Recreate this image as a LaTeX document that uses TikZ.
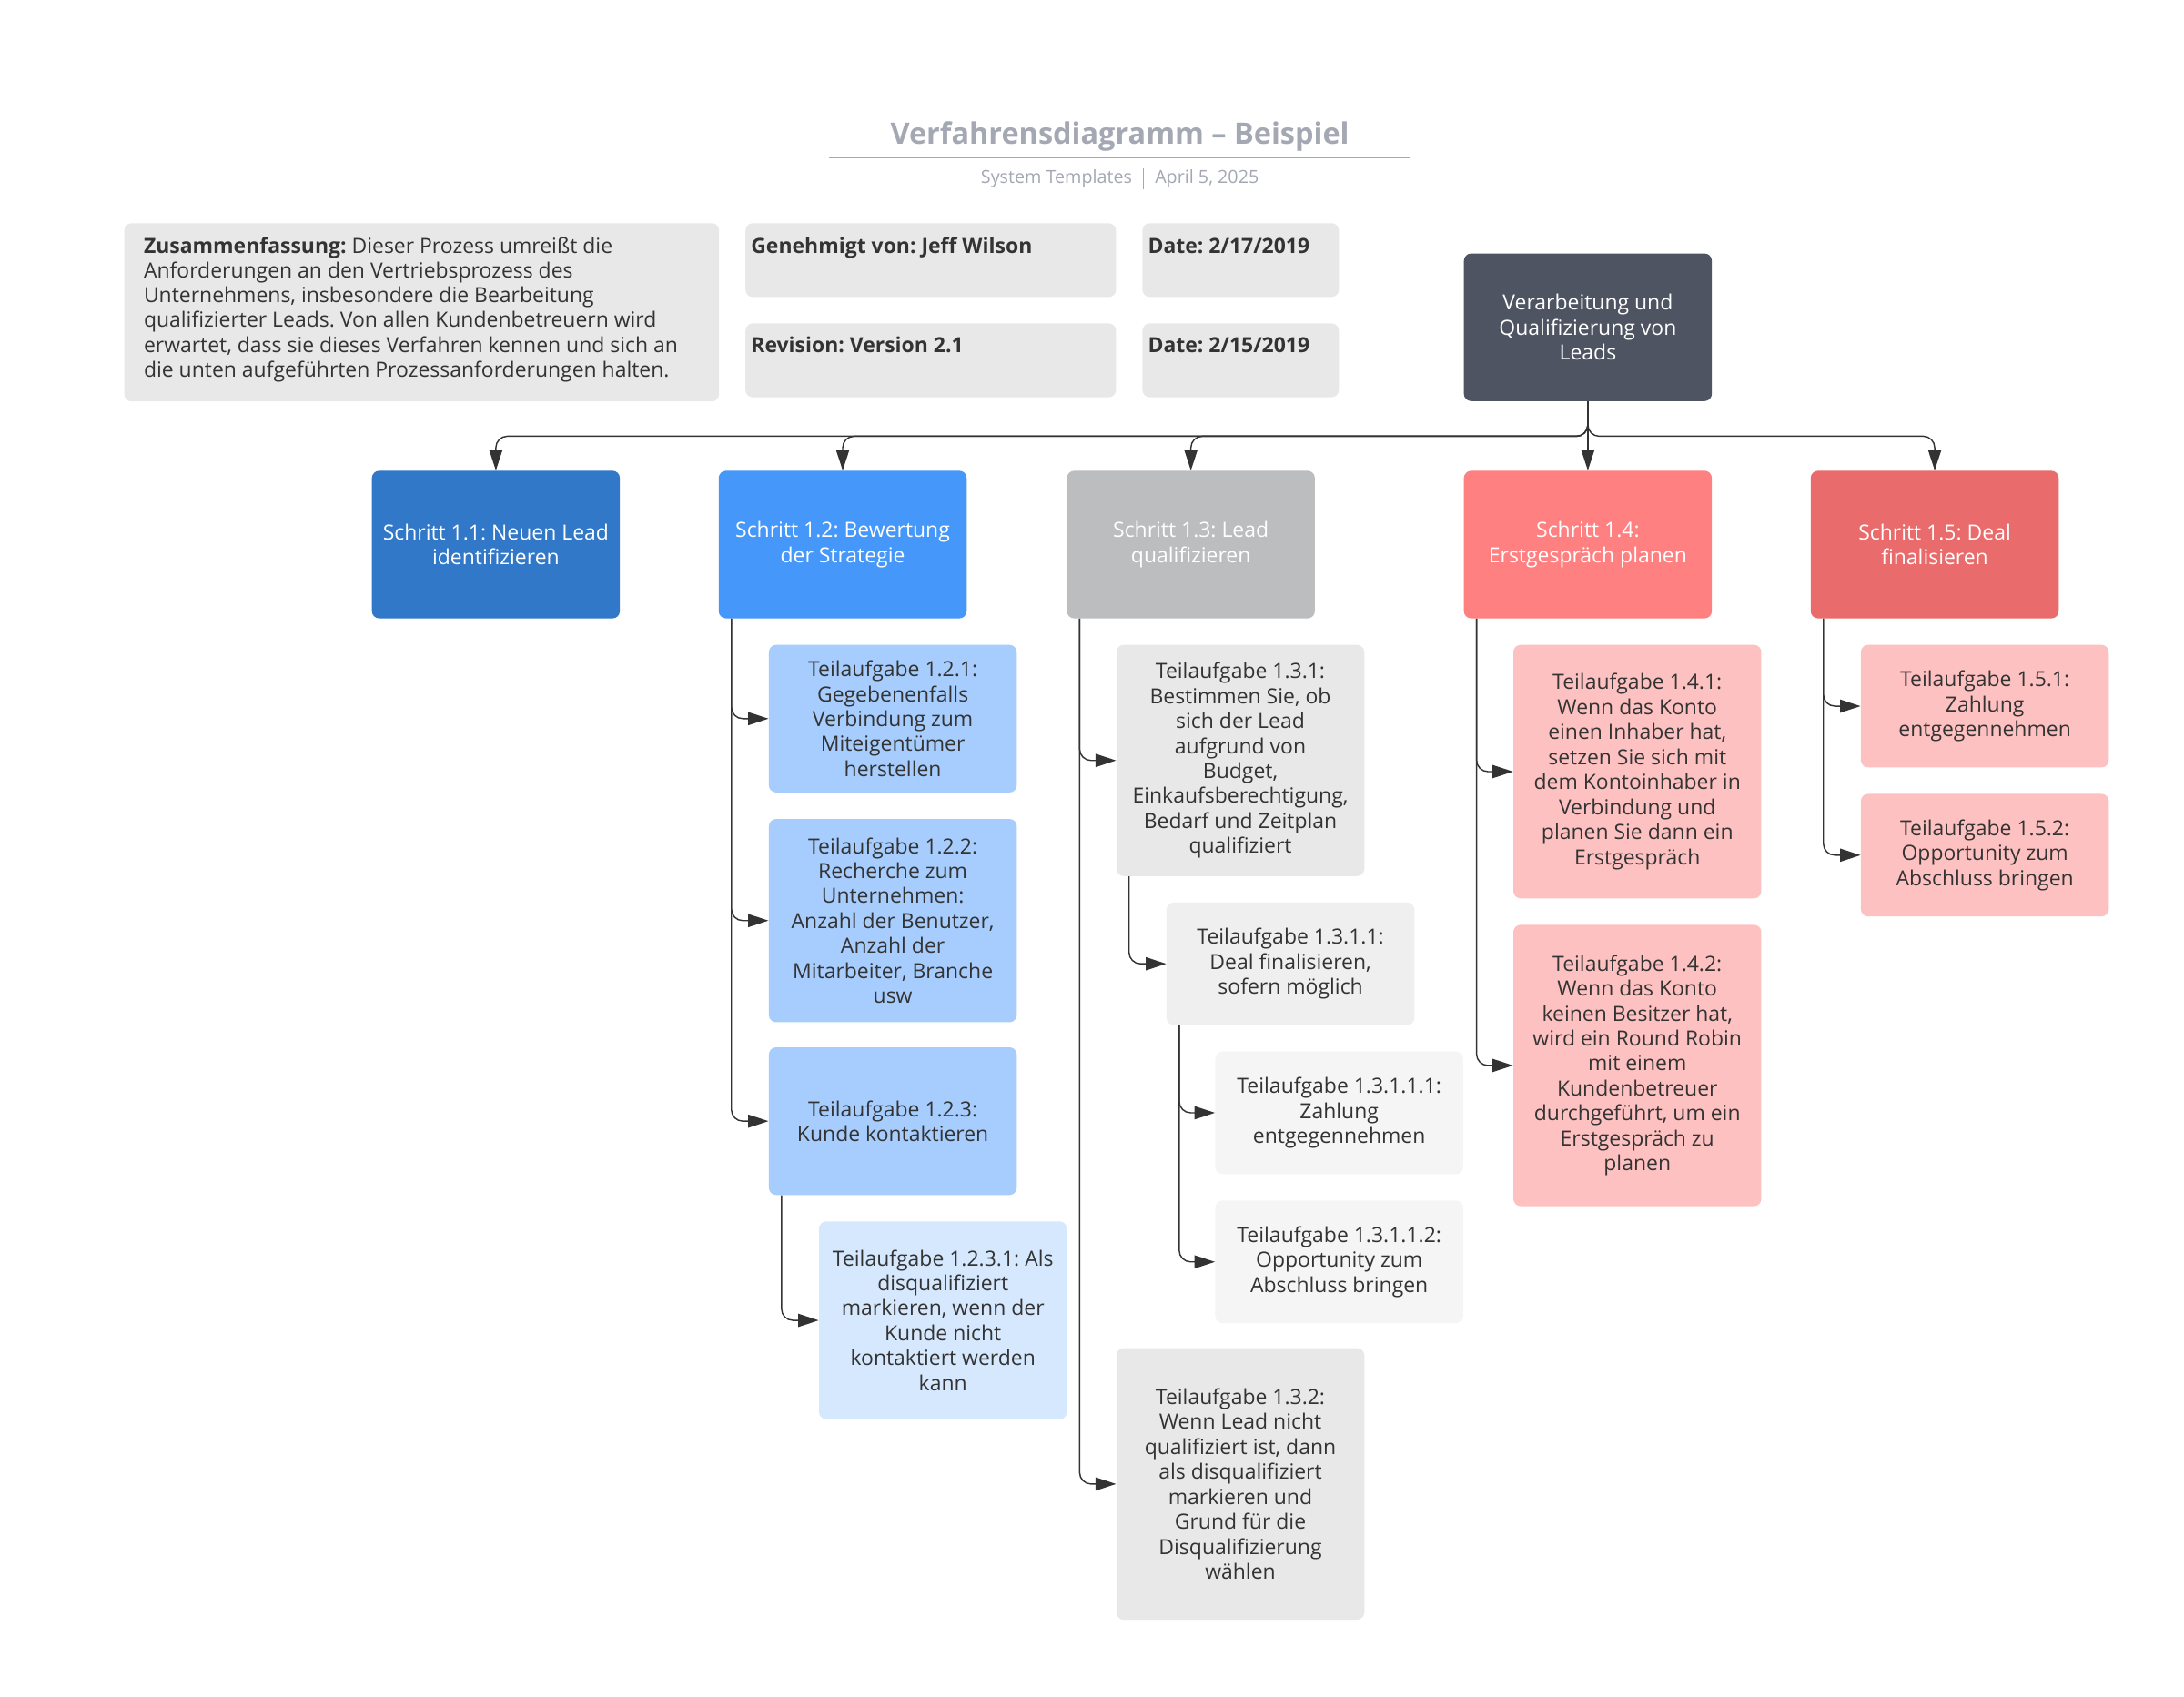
\documentclass[tikz,border=0pt]{standalone}
\usepackage{fontspec}
\setmainfont{Open Sans}
\usepackage{tikz}
\usetikzlibrary{arrows.meta}
\frenchspacing

\definecolor{textdark}{HTML}{333333}
\definecolor{linedark}{HTML}{333333}
\definecolor{titlegray}{HTML}{A3A8B3}
\definecolor{infogray}{HTML}{E8E8E8}
\definecolor{rootgray}{HTML}{4E5461}
\definecolor{step11}{HTML}{3178C8}
\definecolor{step12}{HTML}{4597FA}
\definecolor{step13}{HTML}{BCBDBF}
\definecolor{step14}{HTML}{FF8080}
\definecolor{step15}{HTML}{EA6B6B}
\definecolor{task12}{HTML}{A6CDFD}
\definecolor{task123}{HTML}{D6E8FE}
\definecolor{task13}{HTML}{E8E8E8}
\definecolor{task131}{HTML}{EFEFEF}
\definecolor{task1311}{HTML}{F5F5F5}
\definecolor{task14}{HTML}{FEC1C1}

\begin{document}
\begin{tikzpicture}[x=0.03cm, y=-0.03cm,
    box/.style={rounded corners=4.5pt, minimum width=5.34cm, align=center, inner sep=0pt,
                font=\fontsize{12.8}{15.3}\selectfont, text=textdark},
    stepbox/.style={box, minimum height=3.18cm, text=white},
    infobox/.style={rounded corners=4.5pt, fill=infogray, inner sep=0pt, anchor=north west},
    infotext/.style={inner sep=0pt, align=left, text=textdark, font=\fontsize{12.8}{15.2}\selectfont},
    subtext/.style={inner sep=0pt, text=titlegray, font=\fontsize{11}{13}\selectfont},
    conn/.style={draw=linedark, line width=0.8pt, rounded corners=7pt,
                 -{Triangle[length=4.4mm,width=2.8mm]}}]

\fill[white] (0,0) rectangle (1568,1218);
\useasboundingbox (0,0) rectangle (1568,1218);

\node[inner sep=0pt, text=titlegray, font=\fontsize{18.1}{22}\selectfont\bfseries] (title) at (804,98) {Verfahrensdiagramm – Beispiel};
\draw[titlegray, line width=0.8pt] (595,113) -- (1012,113);
\node[subtext, anchor=east] (tmpl) at (813,128) {System Templates};
\node[subtext, anchor=west] (date) at (829,128) {April 5, 2025};
\draw[titlegray, line width=0.5pt] (821,121) -- (821,136);

\node[infobox, minimum width=12.81cm, minimum height=3.84cm] (summ) at (89,160) {};
\node[infobox, minimum width=7.98cm, minimum height=1.59cm] (appr) at (535,160) {};
\node[infobox, minimum width=4.23cm, minimum height=1.59cm] (date1) at (820,160) {};
\node[infobox, minimum width=7.98cm, minimum height=1.59cm] (rev) at (535,232) {};
\node[infobox, minimum width=4.23cm, minimum height=1.59cm] (date2) at (820,232) {};

\node[infotext, anchor=north west] (summtext) at (103,170) {\textbf{Zusammenfassung:} Dieser Prozess umreißt die\\Anforderungen an den Vertriebsprozess des\\Unternehmens, insbesondere die Bearbeitung\\qualifizierter Leads. Von allen Kundenbetreuern wird\\erwartet, dass sie dieses Verfahren kennen und sich an\\die unten aufgeführten Prozessanforderungen halten.};
\node[infotext, anchor=base west] (apprtext) at (539,182) {\textbf{Genehmigt von: Jeff Wilson}};
\node[infotext, anchor=base west] (date1text) at (824,182) {\textbf{Date: 2/17/2019}};
\node[infotext, anchor=base west] (revtext) at (539,253) {\textbf{Revision: Version 2.1}};
\node[infotext, anchor=base west] (date2text) at (824,253) {\textbf{Date: 2/15/2019}};

\node[stepbox, fill=rootgray] (root) at (1140,235) {Verarbeitung und\\Qualifizierung von\\Leads};

\node[stepbox, fill=step11] (s11) at (356,391) {Schritt 1.1: Neuen Lead\\identifizieren};
\node[stepbox, fill=step12] (s12) at (605,391) {Schritt 1.2: Bewertung\\der Strategie};
\node[stepbox, fill=step13] (s13) at (855,391) {Schritt 1.3: Lead\\qualifizieren};
\node[stepbox, fill=step14] (s14) at (1140,391) {Schritt 1.4:\\Erstgespräch planen};
\node[stepbox, fill=step15] (s15) at (1389,391) {Schritt 1.5: Deal\\finalisieren};

\node[box, fill=task12, minimum height=3.18cm] (t121) at (641,516) {Teilaufgabe 1.2.1:\\Gegebenenfalls\\Verbindung zum\\Miteigentümer\\herstellen};
\node[box, fill=task12, minimum height=4.38cm] (t122) at (641,661) {Teilaufgabe 1.2.2:\\Recherche zum\\Unternehmen:\\Anzahl der Benutzer,\\Anzahl der\\Mitarbeiter, Branche\\usw};
\node[box, fill=task12, minimum height=3.18cm] (t123) at (641,805) {Teilaufgabe 1.2.3:\\Kunde kontaktieren};
\node[box, fill=task123, minimum height=4.26cm] (t1231) at (677,948) {Teilaufgabe 1.2.3.1: Als\\disqualifiziert\\markieren, wenn der\\Kunde nicht\\kontaktiert werden\\kann};

\node[box, fill=task13, minimum height=4.98cm] (t131) at (890.5,546) {Teilaufgabe 1.3.1:\\Bestimmen Sie, ob\\sich der Lead\\aufgrund von\\Budget,\\Einkaufsberechtigung,\\Bedarf und Zeitplan\\qualifiziert};
\node[box, fill=task131, minimum height=2.64cm] (t1311) at (926.5,692) {Teilaufgabe 1.3.1.1:\\Deal finalisieren,\\sofern möglich};
\node[box, fill=task1311, minimum height=2.64cm] (t13111) at (961.5,799) {Teilaufgabe 1.3.1.1.1:\\Zahlung\\entgegennehmen};
\node[box, fill=task1311, minimum height=2.64cm] (t13112) at (961.5,906) {Teilaufgabe 1.3.1.1.2:\\Opportunity zum\\Abschluss bringen};
\node[box, fill=task13, minimum height=5.85cm] (t132) at (890.5,1065.5) {Teilaufgabe 1.3.2:\\Wenn Lead nicht\\qualifiziert ist, dann\\als disqualifiziert\\markieren und\\Grund für die\\Disqualifizierung\\wählen};

\node[box, fill=task14, minimum height=5.46cm] (t141) at (1175.5,554) {Teilaufgabe 1.4.1:\\Wenn das Konto\\einen Inhaber hat,\\setzen Sie sich mit\\dem Kontoinhaber in\\Verbindung und\\planen Sie dann ein\\Erstgespräch};
\node[box, fill=task14, minimum height=6.06cm] (t142) at (1175.5,765) {Teilaufgabe 1.4.2:\\Wenn das Konto\\keinen Besitzer hat,\\wird ein Round Robin\\mit einem\\Kundenbetreuer\\durchgeführt, um ein\\Erstgespräch zu\\planen};

\node[box, fill=task14, minimum height=2.64cm] (t151) at (1425,507) {Teilaufgabe 1.5.1:\\Zahlung\\entgegennehmen};
\node[box, fill=task14, minimum height=2.64cm] (t152) at (1425,614) {Teilaufgabe 1.5.2:\\Opportunity zum\\Abschluss bringen};

\foreach \s in {s11,s12,s13,s15}
    \draw[conn] (root.south) -- ++(0,25) -| (\s.north);
\draw[conn] (root) -- (s14);

\foreach \p/\c in {s12/t121, s12/t122, s12/t123, t123/t1231, s13/t131, s13/t132,
                   t131/t1311, t1311/t13111, t1311/t13112, s14/t141, s14/t142,
                   s15/t151, s15/t152}
    \draw[conn] ([xshift=0.28cm]\p.south west) |- (\c.west);

\end{tikzpicture}
\end{document}
